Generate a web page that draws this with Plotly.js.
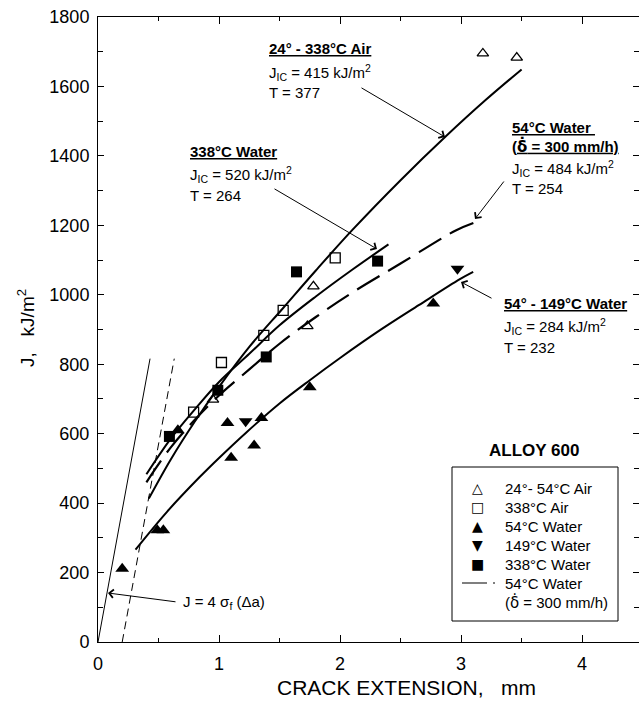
<!DOCTYPE html>
<html><head><meta charset="utf-8">
<script src="https://cdn.plot.ly/plotly-3.0.1.min.js"></script>
<style>body{margin:0;background:#fff}#chart{width:639px;height:702px}</style>
</head><body><div id="chart"></div>
<script>
// ---- data ----
const airOpenTriX = [0.95, 1.73, 1.78, 3.18, 3.46];
const airOpenTriY = [698, 910, 1024, 1695, 1683];
const air338SqX = [0.79, 1.02, 1.37, 1.53, 1.96];
const air338SqY = [662, 805, 883, 955, 1106];
const water54X = [0.20, 0.49, 0.54, 0.66, 1.07, 1.10, 1.29, 1.35, 1.75, 2.77];
const water54Y = [211, 322, 322, 610, 631, 531, 566, 645, 734, 975];
const water149X = [1.22, 2.97];
const water149Y = [636, 1075];
const water338X = [0.59, 0.99, 1.39, 1.64, 2.31];
const water338Y = [592, 725, 821, 1066, 1097];

// fitted resistance curves
const fitAirX = [0.42, 0.6, 0.8, 1.0, 1.25, 1.53, 1.8, 2.1, 2.5, 2.87, 3.2, 3.5];
const fitAirY = [413, 525, 635, 735, 850, 962, 1070, 1186, 1330, 1455, 1560, 1649];
const fit338WX = [0.40, 0.6, 0.8, 1.0, 1.25, 1.5, 1.8, 2.1, 2.40];
const fit338WY = [483, 585, 670, 749, 830, 912, 995, 1072, 1145];
const fit54DX = [0.40, 0.6, 0.8, 1.0, 1.25, 1.5, 1.8, 2.1, 2.5, 2.96, 3.11];
const fit54DY = [460, 560, 640, 710, 785, 859, 936, 1006, 1090, 1186, 1208];
const fit149X = [0.31, 0.57, 0.84, 1.0, 1.23, 1.5, 1.75, 2.0, 2.33, 2.65, 2.99, 3.10];
const fit149Y = [266, 375, 475, 530, 605, 687, 754, 818, 898, 970, 1045, 1066];
// blunting line and 0.2 mm offset line
const bluntX = [0, 0.43];
const bluntY = [0, 816];
const offsetX = [0.2, 0.63];
const offsetY = [0, 816];

const xTickVals = [0, 1, 2, 3, 4];
const xTickText = ['0', '1', '2', '3', '4'];

const FONT = 'Liberation Sans, Arial, sans-serif';
const K = '#000';

const traces = [
  {x: bluntX, y: bluntY, mode: 'lines', line: {color: K, width: 1}, showlegend: false},
  {x: offsetX, y: offsetY, mode: 'lines', line: {color: K, width: 1, dash: '8px,5px'}, showlegend: false},
  {x: fitAirX, y: fitAirY, mode: 'lines', line: {color: K, width: 2, shape: 'spline'}, showlegend: false},
  {x: fit338WX, y: fit338WY, mode: 'lines', line: {color: K, width: 2, shape: 'spline'}, showlegend: false},
  {x: fit54DX, y: fit54DY, mode: 'lines', line: {color: K, width: 2.2, shape: 'spline', dash: '26px,10px'}, showlegend: false},
  {x: fit149X, y: fit149Y, mode: 'lines', line: {color: K, width: 2, shape: 'spline'}, showlegend: false},
  {x: airOpenTriX, y: airOpenTriY, mode: 'markers', showlegend: false,
   marker: {symbol: 'triangle-up-open', size: 10, color: K, line: {width: 1.3, color: K}}},
  {x: air338SqX, y: air338SqY, mode: 'markers', showlegend: false,
   marker: {symbol: 'square-open', size: 10, color: K, line: {width: 1.3, color: K}}},
  {x: water54X, y: water54Y, mode: 'markers', showlegend: false,
   marker: {symbol: 'triangle-up', size: 12, color: K}},
  {x: water149X, y: water149Y, mode: 'markers', showlegend: false,
   marker: {symbol: 'triangle-down', size: 12, color: K}},
  {x: water338X, y: water338Y, mode: 'markers', showlegend: false,
   marker: {symbol: 'square', size: 11, color: K}}
];

// pixel helpers for placing labels (plot area: left 98, 121 px per mm; y 0 at 642, 0.3472 px per kJ/m2)
const px2x = p => (p - 98) / 121.03;
const px2y = p => (642 - p) / 0.34722;

function txt(t, xp, yp, opt) {
  return Object.assign({x: px2x(xp), y: px2y(yp), xref: 'x', yref: 'y', text: t, showarrow: false,
    xanchor: 'left', yanchor: 'middle', align: 'left', font: {family: FONT, size: 15, color: K}}, opt || {});
}
function arrow(x0, y0, x1, y1) {
  return {x: px2x(x1), y: px2y(y1), ax: px2x(x0), ay: px2y(y0), xref: 'x', yref: 'y', axref: 'x', ayref: 'y',
    text: '', showarrow: true, arrowhead: 4, arrowsize: 1.6, arrowwidth: 1, arrowcolor: K};
}
const DDOT = '<span style="font-family:DejaVu Sans">δ̇</span>';

const annotations = [
  txt('<b><u>24° - 338°C Air</u></b>', 267, 48),
  txt('J<sub>IC</sub> = 415 kJ/m<sup>2</sup>', 267, 72),
  txt('T = 377', 267, 92),
  arrow(360, 87, 445, 137),

  txt('<b><u>338°C Water</u></b>', 188, 151),
  txt('J<sub>IC</sub> = 520 kJ/m<sup>2</sup>', 188, 174),
  txt('T = 264', 188, 195),
  arrow(273, 188, 377, 249),

  txt('<b><u>54°C Water </u></b>', 510, 127),
  txt('<b><u>(' + DDOT + ' = 300 mm/h)</u></b>', 510, 146),
  txt('J<sub>IC</sub> = 484 kJ/m<sup>2</sup>', 510, 168),
  txt('T = 254', 510, 188),
  arrow(505, 180, 475, 219),

  txt('<b><u>54° - 149°C Water</u></b>', 502, 303),
  txt('J<sub>IC</sub> = 284 kJ/m<sup>2</sup>', 502, 326),
  txt('T = 232', 502, 347),
  arrow(493, 299, 461, 282),

  txt('J = 4 σ<sub>f</sub> (Δa)', 181, 602),
  arrow(177, 602, 108, 593),

  // legend block
  txt('<b>ALLOY 600</b>', 534, 450, {xanchor: 'center', font: {family: FONT, size: 17, color: K}}),
  txt('△', 477, 488, {xanchor: 'center', font: {family: 'DejaVu Sans', size: 14, color: K}}),
  txt('□', 477, 507, {xanchor: 'center', font: {family: 'DejaVu Sans', size: 14, color: K}}),
  txt('▲', 477, 526, {xanchor: 'center', font: {family: 'DejaVu Sans', size: 14, color: K}}),
  txt('▼', 477, 545, {xanchor: 'center', font: {family: 'DejaVu Sans', size: 14, color: K}}),
  txt('■', 477, 564, {xanchor: 'center', font: {family: 'DejaVu Sans', size: 14, color: K}}),
  txt('24°- 54°C Air', 503, 488),
  txt('338°C Air', 503, 507),
  txt('54°C Water', 503, 526),
  txt('149°C Water', 503, 545),
  txt('338°C Water', 503, 564),
  txt('54°C Water', 503, 583),
  txt('(' + DDOT + ' = 300 mm/h)', 503, 602),

  // axis titles
  {xref: 'paper', yref: 'paper', x: (406 - 98) / 541, y: (642 - 687) / 625, text: 'CRACK EXTENSION,   mm',
   showarrow: false, xanchor: 'center', yanchor: 'middle', font: {family: FONT, size: 21, color: K}},
  {xref: 'paper', yref: 'paper', x: (26 - 98) / 541, y: (642 - 328) / 625, text: 'J,   kJ/m<sup>2</sup>',
   textangle: -90, showarrow: false, xanchor: 'center', yanchor: 'middle', font: {family: FONT, size: 19, color: K}}
];

const shapes = [
  {type: 'rect', xref: 'x', yref: 'y', x0: px2x(452), x1: px2x(618), y0: px2y(621), y1: px2y(467),
   line: {color: K, width: 1}},
  {type: 'line', xref: 'x', yref: 'y', x0: px2x(462), x1: px2x(495), y0: px2y(583), y1: px2y(583),
   line: {color: K, width: 1.2, dash: '25px,6px'}}
];

const layout = {
  width: 639, height: 702,
  margin: {l: 98, r: 0, t: 17, b: 60},
  paper_bgcolor: '#fff', plot_bgcolor: '#fff',
  showlegend: false,
  font: {family: FONT, color: K},
  xaxis: {range: [0, 4.47], tickvals: xTickVals, ticktext: xTickText, ticks: 'inside', ticklen: 7,
    tickcolor: K, showline: true, linecolor: K, linewidth: 1, mirror: 'ticks', showgrid: false, zeroline: false,
    tickfont: {family: FONT, size: 18, color: K}, ticklabelstandoff: 5,
    minor: {tickvals: [0.5, 1.5, 2.5, 3.5, 4.5], ticks: 'inside', ticklen: 4, tickcolor: K, showgrid: false}},
  yaxis: {range: [0, 1800], dtick: 200, tick0: 0, ticks: 'inside', ticklen: 6, tickcolor: K,
    showline: true, linecolor: K, linewidth: 1, mirror: 'ticks', showgrid: false, zeroline: false,
    tickfont: {family: FONT, size: 18, color: K}, ticklabelstandoff: 4,
    minor: {dtick: 100, ticks: 'inside', ticklen: 5, tickcolor: K, showgrid: false}},
  annotations: annotations,
  shapes: shapes
};

Plotly.newPlot('chart', traces, layout, {displayModeBar: false, staticPlot: true});
</script>
</body></html>
